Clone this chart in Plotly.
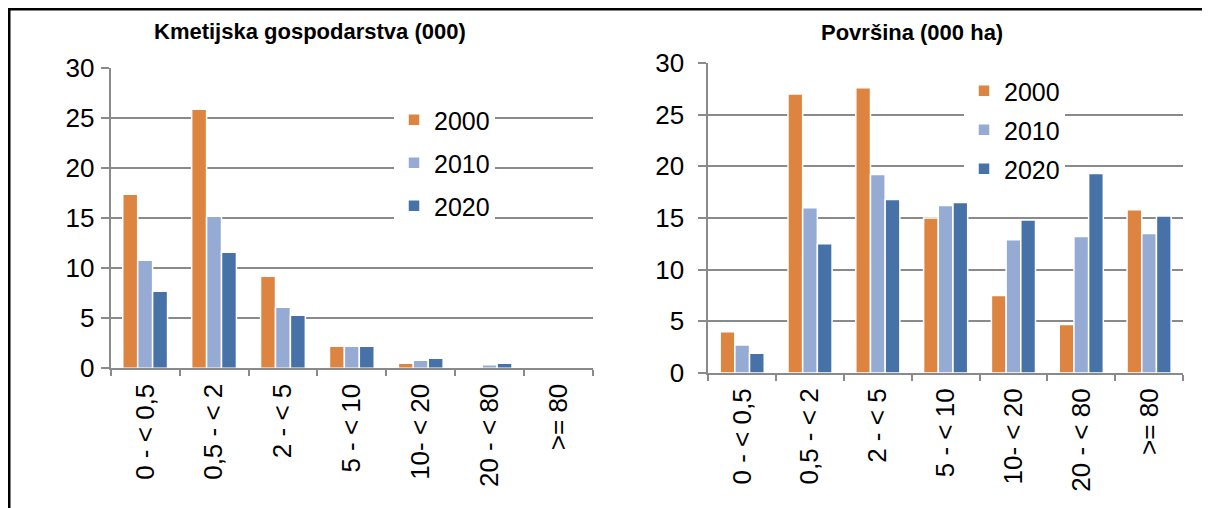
import plotly.graph_objects as go

categories = ["0 - < 0,5", "0,5 - < 2", "2 - < 5", "5 - < 10", "10- < 20", "20 - < 80", ">= 80"]
years = ["2000", "2010", "2020"]

# Kmetijska gospodarstva (000)
farms_2000 = [17.4, 25.9, 9.2, 2.2, 0.5, 0.05, 0.0]
farms_2010 = [10.8, 15.2, 6.1, 2.2, 0.8, 0.35, 0.0]
farms_2020 = [7.7, 11.6, 5.3, 2.2, 1.0, 0.5, 0.0]

# Površina (000 ha)
area_2000 = [4.0, 27.0, 27.6, 15.0, 7.5, 4.7, 15.8]
area_2010 = [2.7, 16.0, 19.2, 16.2, 12.9, 13.2, 13.5]
area_2020 = [1.9, 12.5, 16.8, 16.5, 14.8, 19.3, 15.2]

colors = ["#DD8441", "#95ABD4", "#4672A8"]
titles = ["Kmetijska gospodarstva (000)", "Površina (000 ha)"]

# page body has an 8px margin around the figure
OFF = 8
W, H = 1210, 508
FONT = "Liberation Sans, Arial, sans-serif"
GRID = "#8a8a8a"

fig = go.Figure()

for i, (yr, vals) in enumerate(zip(years, [farms_2000, farms_2010, farms_2020])):
    fig.add_trace(go.Bar(x=categories, y=vals, name=yr, marker_color=colors[i],
                         marker_line=dict(color="white", width=1.5),
                         xaxis="x", yaxis="y", legend="legend", legendgroup="a" + yr))
for i, (yr, vals) in enumerate(zip(years, [area_2000, area_2010, area_2020])):
    fig.add_trace(go.Bar(x=categories, y=vals, name=yr, marker_color=colors[i],
                         marker_line=dict(color="white", width=1.5),
                         xaxis="x2", yaxis="y2", legend="legend2", legendgroup="b" + yr))

def px_x(p):
    # screen x pixel -> paper fraction
    return (p - OFF) / W

def px_y(p):
    # screen y pixel -> paper fraction
    return 1 - (p - OFF) / H

xcommon = dict(type="category", showgrid=False, showline=True, linecolor=GRID, linewidth=2,
               ticks="outside", tickson="boundaries", ticklen=6, tickcolor=GRID, tickwidth=2,
               tickangle=-90, tickfont=dict(family=FONT, size=26, color="black"),
               ticklabelstandoff=3, fixedrange=True, automargin=False)
ycommon = dict(range=[0, 30], dtick=5, showgrid=True, gridcolor=GRID, gridwidth=2,
               showline=True, linecolor=GRID, linewidth=2, zeroline=False,
               ticks="outside", ticklen=8, tickcolor=GRID, tickwidth=2,
               tickfont=dict(family=FONT, size=26, color="black"), fixedrange=True,
               automargin=False)

legend_common = dict(xanchor="left", yanchor="top", bgcolor="white", borderwidth=0,
                     font=dict(family=FONT, size=25, color="black"),
                     itemclick=False, itemdoubleclick=False)

fig.update_layout(
    width=W, height=H,
    margin=dict(l=0, r=0, t=0, b=0, autoexpand=False),
    paper_bgcolor="white", plot_bgcolor="white",
    barmode="group", bargap=0.35, bargroupgap=0,
    font=dict(family=FONT, color="black"),
    xaxis=dict(domain=[px_x(110.7), px_x(593)], anchor="y", **xcommon),
    yaxis=dict(domain=[px_y(368.3), px_y(68.3)], anchor="x", ticklabelstandoff=1, **ycommon),
    xaxis2=dict(domain=[px_x(708.3), px_x(1183)], anchor="y2", **xcommon),
    yaxis2=dict(domain=[px_y(373), px_y(63)], anchor="x2", ticklabelstandoff=9, **ycommon),
    legend=dict(x=px_x(394), y=px_y(97), tracegroupgap=7.5, **legend_common),
    legend2=dict(x=px_x(964), y=px_y(68), tracegroupgap=3.5, **legend_common),
    showlegend=True,
)

# outer frame (top and left edges)
fig.add_shape(type="line", xref="paper", yref="paper", x0=0, x1=1, y0=1, y1=1,
              line=dict(color="black", width=5))
fig.add_shape(type="line", xref="paper", yref="paper", x0=0, x1=0, y0=0, y1=1,
              line=dict(color="black", width=5))

# chart titles
fig.add_annotation(text="<b>" + titles[0] + "</b>", xref="paper", yref="paper",
                   x=px_x(310), y=px_y(31), xanchor="center", yanchor="middle", showarrow=False,
                   font=dict(family=FONT, size=22, color="black"))
fig.add_annotation(text="<b>" + titles[1] + "</b>", xref="paper", yref="paper",
                   x=px_x(912), y=px_y(32), xanchor="center", yanchor="middle", showarrow=False,
                   font=dict(family=FONT, size=22, color="black"))

fig.write_html("out.html", config={"displayModeBar": False})
